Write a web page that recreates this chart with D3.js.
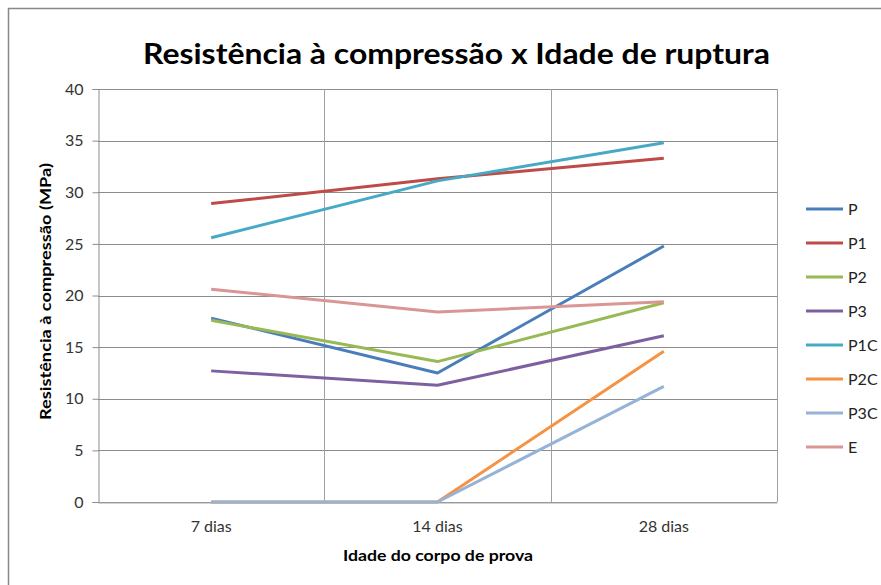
<!DOCTYPE html>
<html>
<head>
<meta charset="utf-8">
<script src="https://cdn.jsdelivr.net/npm/d3@7"></script>
<style>
  body { margin: 0; background: #fff; }
  text { font-family: Lato, "Open Sans", sans-serif; }
</style>
</head>
<body>
<div id="chart"></div>
<script>
// chart data
var categories = ["7 dias", "14 dias", "28 dias"];
var seriesNames = ["P", "P1", "P2", "P3", "P1C", "P2C", "P3C", "E"];
var P   = [17.8, 12.5, 24.8];
var P1  = [28.9, 31.3, 33.3];
var P2  = [17.6, 13.6, 19.3];
var P3  = [12.7, 11.3, 16.1];
var P1C = [25.6, 31.1, 34.8];
var P2C = [0, 0, 14.6];
var P3C = [0, 0, 11.2];
var E   = [20.6, 18.4, 19.4];
var yTicks = [0, 5, 10, 15, 20, 25, 30, 35, 40];

var seriesValues = [P, P1, P2, P3, P1C, P2C, P3C, E];
var colors = ["#4a7ebb", "#be4b48", "#98b954", "#7d60a0", "#46aac5", "#f69240", "#95b3d7", "#d99694"];

var svgWidth = 881;
var svgHeight = 585;

var margin = { top: 89, right: 104, bottom: 83, left: 98 };
var width = svgWidth - margin.left - margin.right;
var height = svgHeight - margin.top - margin.bottom;

var svg = d3.select("#chart")
  .append("svg")
  .attr("width", svgWidth)
  .attr("height", svgHeight);

// outer chart border
svg.append("path")
  .attr("d", "M8.5,585 V8.5 H881")
  .attr("fill", "none")
  .attr("stroke", "#888")
  .attr("stroke-width", 1.5);

svg.append("text")
  .attr("x", 143)
  .attr("y", 64)
  .attr("font-size", 29)
  .attr("font-weight", "bold")
  .attr("fill", "#000")
  .attr("textLength", 627)
  .attr("lengthAdjust", "spacingAndGlyphs")
  .text("Resistência à compressão x Idade de ruptura");

var chartGroup = svg.append("g")
  .attr("transform", `translate(${margin.left}, ${margin.top})`);

var xScale = d3.scaleBand()
  .domain(categories)
  .range([0, width]);

var yScale = d3.scaleLinear()
  .domain([0, 40])
  .range([height, 0]);

// horizontal gridlines
chartGroup.append("g")
  .selectAll("line")
  .data(yTicks)
  .enter()
  .append("line")
  .attr("x1", 0)
  .attr("x2", width)
  .attr("y1", d => Math.round(yScale(d)) + 0.5)
  .attr("y2", d => Math.round(yScale(d)) + 0.5)
  .attr("stroke", "#8c8c8c")
  .attr("stroke-width", 1);

// vertical gridlines between categories
chartGroup.append("g")
  .selectAll("line")
  .data(categories.slice(1))
  .enter()
  .append("line")
  .attr("x1", d => Math.round(xScale(d)) + 0.5)
  .attr("x2", d => Math.round(xScale(d)) + 0.5)
  .attr("y1", 0)
  .attr("y2", height)
  .attr("stroke", "#a0a0a0");

// plot area right border
chartGroup.append("line")
  .attr("x1", width + 0.5).attr("x2", width + 0.5)
  .attr("y1", 0).attr("y2", height)
  .attr("stroke", "#a0a0a0");

// y axis
var yAxis = d3.axisLeft(yScale).tickValues(yTicks).tickSize(6).tickPadding(9);
var yG = chartGroup.append("g").attr("transform", "translate(0.5,0)").call(yAxis);
yG.select(".domain").attr("stroke", "#8c8c8c");
yG.selectAll(".tick line").attr("stroke", "#8c8c8c");
yG.selectAll("text").attr("font-size", 16).attr("fill", "#333").attr("font-family", "Lato, sans-serif");

// x axis
var xAxis = d3.axisBottom(xScale).tickSize(0).tickPadding(18);
var xG = chartGroup.append("g").attr("transform", `translate(0, ${height + 0.5})`).call(xAxis);
xG.select(".domain").attr("stroke", "#a8a8a8");
xG.selectAll("text").attr("font-size", 16).attr("fill", "#333").attr("font-family", "Lato, sans-serif");

// axis titles
svg.append("text")
  .attr("x", 343)
  .attr("y", 561)
  .attr("font-size", 15.5)
  .attr("font-weight", "bold")
  .attr("textLength", 190)
  .attr("lengthAdjust", "spacingAndGlyphs")
  .text("Idade do corpo de prova");

svg.append("text")
  .attr("transform", "translate(51, 420) rotate(-90)")
  .attr("font-size", 15.5)
  .attr("font-weight", "bold")
  .attr("textLength", 257)
  .attr("lengthAdjust", "spacingAndGlyphs")
  .text("Resistência à compressão (MPa)");

// lines
var line = d3.line()
  .x((d, i) => xScale(categories[i]) + xScale.bandwidth() / 2)
  .y(d => yScale(d));

chartGroup.selectAll(".series")
  .data(seriesValues)
  .enter()
  .append("path")
  .attr("class", "series")
  .attr("d", d => line(d))
  .attr("fill", "none")
  .attr("stroke", (d, i) => colors[i])
  .attr("stroke-width", 3)
  .attr("stroke-linejoin", "round");

// legend
var legend = svg.append("g").attr("transform", "translate(806, 209)");
var items = legend.selectAll(".item")
  .data(seriesNames)
  .enter()
  .append("g")
  .attr("transform", (d, i) => `translate(0, ${i * 34})`);

items.append("line")
  .attr("x1", 0).attr("x2", 37)
  .attr("y1", 0).attr("y2", 0)
  .attr("stroke", (d, i) => colors[i])
  .attr("stroke-width", 3);

items.append("text")
  .attr("x", 42)
  .attr("y", 6)
  .attr("font-size", 16)
  .attr("fill", "#222")
  .text(d => d);
</script>
</body>
</html>
